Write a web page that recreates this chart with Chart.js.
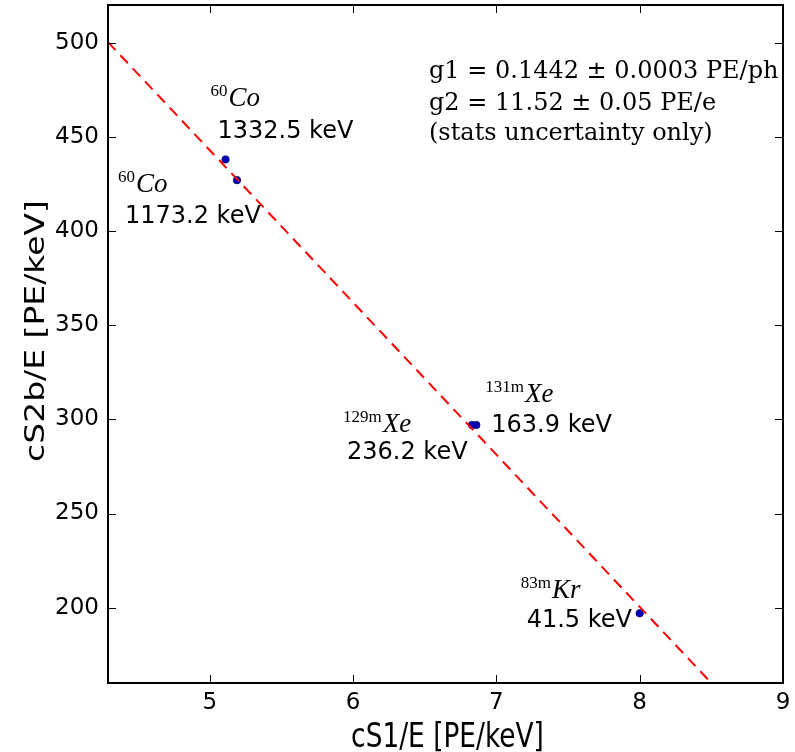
<!DOCTYPE html>
<html>
<head>
<meta charset="utf-8">
<script src="https://cdn.jsdelivr.net/npm/chart.js@4/dist/chart.umd.min.js"></script>
<style>
body{margin:0;background:#fff;}
canvas{display:block;}
</style>
</head>
<body>
<canvas id="grafico" width="795" height="752"></canvas>
<script>
//datos
const puntosX=[5.11,5.19,6.83,6.86,8.00];
const puntosY=[438,427,297,297,197];
const isoMasa=['60','60','129m','131m','83m'];
const isoNombre=['Co','Co','Xe','Xe','Kr'];
const energias=['1332.5 keV','1173.2 keV','236.2 keV','163.9 keV','41.5 keV'];
const ajusteX=[4.29,8.5];
const ajusteY=[500.3,160];
const ticksX=[5,6,7,8,9];
const ticksY=[200,250,300,350,400,450,500];
const textoGanancias=['g1 = 0.1442 \u00b1 0.0003 PE/ph','g2 = 11.52 \u00b1 0.05 PE/e','(stats uncertainty only)'];
const tituloX='cS1/E [PE/keV]';
const tituloY='cS2b/E [PE/keV]';

const fuenteSans="'DejaVu Sans'";

//donde va cada etiqueta respecto a su punto (pixeles)
const desplaz=[
    {ix:-15,iy:-53,ex:-8,ey:-21},
    {ix:-119,iy:12,ex:-112,ey:43},
    {ix:-129,iy:7,ex:-125,ey:34},
    {ix:9,iy:-23,ex:15,ey:7},
    {ix:-119,iy:-15,ex:-113,ey:14}
];

//marco negro y ticks hacia adentro, como matplotlib
const pluginMarco={
    id:'marco',
    afterDraw(chart)
    {
        const {ctx,chartArea:a,scales}=chart;
        ctx.save();
        ctx.strokeStyle='#000';
        ctx.lineWidth=1;
        scales.x.ticks.forEach(t=>
        {
            const px=Math.round(scales.x.getPixelForValue(t.value))+0.5;
            ctx.beginPath();
            ctx.moveTo(px,a.bottom);ctx.lineTo(px,a.bottom-8);
            ctx.moveTo(px,a.top);ctx.lineTo(px,a.top+8);
            ctx.stroke();
        });
        scales.y.ticks.forEach(t=>
        {
            const py=Math.round(scales.y.getPixelForValue(t.value))+0.5;
            ctx.beginPath();
            ctx.moveTo(a.left,py);ctx.lineTo(a.left+8,py);
            ctx.moveTo(a.right,py);ctx.lineTo(a.right-8,py);
            ctx.stroke();
        });
        ctx.lineWidth=2;
        ctx.strokeRect(a.left,a.top,a.right-a.left,a.bottom-a.top);

        //titulos de ejes, la figura original esta algo comprimida en horizontal
        ctx.fillStyle='#000';
        ctx.font="33px "+fuenteSans;
        ctx.textAlign='center';
        ctx.textBaseline='alphabetic';
        ctx.save();
        ctx.translate((a.left+a.right)/2+2,chart.height-5);
        ctx.scale(0.8,1);
        ctx.fillText(tituloX,0,0);
        ctx.restore();
        ctx.save();
        ctx.translate(44,(a.top+a.bottom)/2-13);
        ctx.rotate(-Math.PI/2);
        ctx.scale(1,0.8);
        ctx.fillText(tituloY,0,0);
        ctx.restore();
        ctx.restore();
    }
};

//etiquetas de isotopos y texto de g1/g2
const pluginTextos={
    id:'textos',
    afterDatasetsDraw(chart)
    {
        const {ctx,chartArea:a,scales}=chart;
        ctx.save();
        ctx.fillStyle='#000';
        ctx.textBaseline='alphabetic';
        ctx.textAlign='left';
        puntosX.forEach((x,i)=>
        {
            const px=scales.x.getPixelForValue(x);
            const py=scales.y.getPixelForValue(puntosY[i]);
            const d=desplaz[i];
            ctx.font="17px 'Liberation Serif'";
            ctx.fillText(isoMasa[i],px+d.ix,py+d.iy-10);
            const w=ctx.measureText(isoMasa[i]).width;
            ctx.font="italic 27px 'Liberation Serif'";
            ctx.fillText(isoNombre[i],px+d.ix+w+1,py+d.iy);
            ctx.font="24px "+fuenteSans;
            ctx.fillText(energias[i],px+d.ex,py+d.ey);
        });
        ctx.font="24px 'DejaVu Serif'";
        const baseY=[73,105,135];
        textoGanancias.forEach((t,i)=>ctx.fillText(t,a.left+321,a.top+baseY[i]));
        ctx.restore();
    }
};

document.addEventListener("DOMContentLoaded",function()
{
    const ctx=document.getElementById('grafico');
    new Chart(ctx,{
        type:'scatter',
        data:{
            datasets:[
                {
                    type:'line',
                    data:ajusteX.map((x,i)=>({x:x,y:ajusteY[i]})),
                    borderColor:'#ff0000',
                    borderWidth:2,
                    borderDash:[11,7],
                    pointRadius:0,
                    fill:false
                },
                {
                    data:puntosX.map((x,i)=>({x:x,y:puntosY[i]})),
                    backgroundColor:'#0000bb',
                    borderColor:'#000044',
                    borderWidth:0.5,
                    pointRadius:3.8
                }
            ]
        },
        options:{
            responsive:false,
            animation:false,
            layout:{padding:{top:5,right:12,left:0,bottom:0}},
            plugins:{legend:{display:false},tooltip:{enabled:false}},
            scales:{
                x:{
                    type:'linear',min:4.29,max:9,
                    afterBuildTicks:s=>{s.ticks=ticksX.map(v=>({value:v}));},
                    afterFit:s=>{s.height=69;s.paddingLeft=0;s.paddingRight=0;},
                    grid:{display:false,drawTicks:false},
                    border:{display:false},
                    ticks:{font:{family:fuenteSans,size:23},color:'#000',padding:6}
                },
                y:{
                    type:'linear',min:160,max:520,
                    afterBuildTicks:s=>{s.ticks=ticksY.map(v=>({value:v}));},
                    afterFit:s=>{s.width=108;s.paddingTop=0;s.paddingBottom=0;},
                    grid:{display:false,drawTicks:false},
                    border:{display:false},
                    ticks:{font:{family:fuenteSans,size:23},color:'#000',padding:9}
                }
            }
        },
        plugins:[pluginMarco,pluginTextos]
    });
});
</script>
</body>
</html>
